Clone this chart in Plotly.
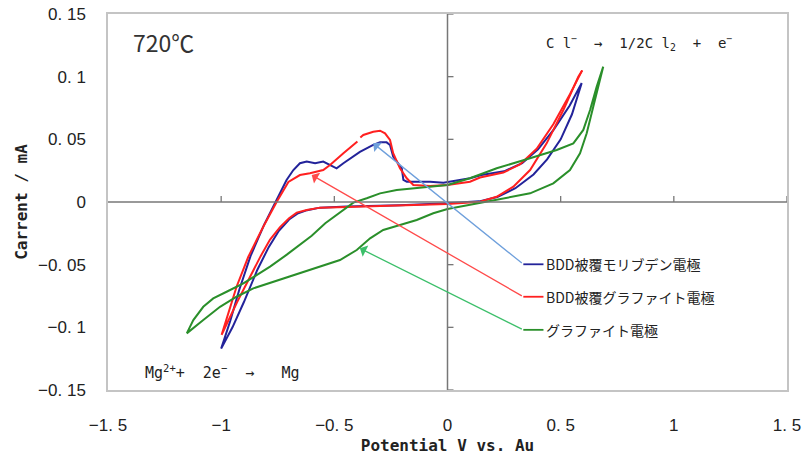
import plotly.graph_objects as go

# ---------------- data ----------------
x_ticks = [-1.5, -1.0, -0.5, 0.0, 0.5, 1.0, 1.5]
x_tick_labels = ["−1. 5", "−1", "−0. 5", "0", "0. 5", "1", "1. 5"]
y_ticks = [-0.15, -0.1, -0.05, 0.0, 0.05, 0.1, 0.15]
y_tick_labels = ["−0. 15", "−0. 1", "−0. 05", "0", "0. 05", "0. 1", "0. 15"]

# BDD被覆モリブデン電極 (blue)
mo_x = [0.593, 0.55, 0.50, 0.44, 0.38, 0.30, 0.22, 0.14, 0.0, -0.21, -0.445, -0.563, -0.62, -0.66,
        -0.70, -0.745, -0.79, -0.84, -0.90, -0.95, -1.0,
        -0.96, -0.92, -0.87, -0.81, -0.755, -0.711, -0.681, -0.652, -0.622, -0.585, -0.549, -0.519,
        -0.49, -0.46, -0.387, -0.328, -0.298, -0.269, -0.254, -0.240, -0.202, -0.195, -0.180, -0.077,
        -0.018, 0.0994, 0.15, 0.25, 0.33, 0.40, 0.47, 0.54, 0.593]
mo_y = [0.095, 0.070, 0.050, 0.034, 0.022, 0.011, 0.004, 0.0005, -0.001, -0.0025, -0.0035, -0.0045,
        -0.0065, -0.009, -0.014, -0.023, -0.036, -0.054, -0.080, -0.100, -0.117,
        -0.095, -0.070, -0.043, -0.018, 0.0016, 0.0176, 0.0255, 0.0309, 0.0322, 0.0309, 0.0322, 0.0295,
        0.0269, 0.0309, 0.040, 0.0455, 0.0476, 0.0476, 0.0455, 0.0362, 0.0269, 0.0176, 0.0162, 0.0162,
        0.0154, 0.0189, 0.0215, 0.0245, 0.031, 0.042, 0.058, 0.077, 0.095]

# BDD被覆グラファイト電極 (red) - None marks the small break in the trace
gr_bdd_x = [0.595, 0.578, 0.512, 0.438, 0.365, 0.291, 0.217, 0.144, 0.0, -0.21, -0.445, -0.563, -0.622,
            -0.666, -0.70, -0.74, -0.784, -0.825, -0.865, -0.93, -0.998,
            -0.965, -0.932, -0.880, -0.814, -0.755, -0.703, -0.652, -0.608, -0.549, -0.519, -0.46, -0.398,
            None, -0.385,
            -0.372, -0.328, -0.298, -0.276, -0.254, -0.240, -0.210, -0.180, -0.151, -0.077, 0.0, 0.0994,
            0.1436, 0.2466, 0.32, 0.394, 0.4675, 0.541, 0.595]
gr_bdd_y = [0.105, 0.100, 0.0734, 0.0468, 0.0255, 0.0122, 0.0042, 0.0002, -0.0016, -0.003, -0.004,
            -0.0045, -0.0064, -0.0085, -0.013, -0.020, -0.030, -0.043, -0.057, -0.080, -0.106,
            -0.086, -0.0676, -0.0437, -0.0197, 0.0, 0.016, 0.0215, 0.0229, 0.0255, 0.0295, 0.0389, 0.0483,
            None, 0.0515,
            0.0535, 0.0561, 0.0569, 0.0548, 0.0495, 0.0389, 0.0269, 0.0189, 0.0136, 0.0128, 0.0136, 0.0162,
            0.0195, 0.0235, 0.030, 0.0425, 0.062, 0.086, 0.105]

# グラファイト電極 (green)
gr_x = [-1.152, -1.123, -1.079, -1.035, -0.976, -0.902, -0.84, -0.784, -0.71, -0.652, -0.60, -0.54,
        -0.475, -0.416, -0.357, -0.298, -0.2245, -0.151, -0.077, 0.0, 0.099, 0.2174, 0.3646, 0.4825,
        0.556, 0.600, 0.630, 0.659, 0.688,
        0.674, 0.644, 0.615, 0.5855, 0.541, 0.4675, 0.365, 0.217, 0.099, 0.0, -0.063, -0.136, -0.210,
        -0.284, -0.342, -0.401, -0.475, -0.563, -0.652, -0.784, -0.858, -0.932, -1.005, -1.079, -1.152]
gr_y = [-0.1048, -0.0942, -0.0836, -0.0769, -0.0716, -0.0649, -0.058, -0.0516, -0.042, -0.0343, -0.027,
        -0.017, -0.008, -0.0005, 0.003, 0.0069, 0.0096, 0.0109, 0.0117, 0.0136, 0.0189, 0.0269, 0.0349,
        0.0415, 0.0468, 0.0575, 0.0734, 0.092, 0.108,
        0.097, 0.076, 0.0548, 0.0389, 0.0255, 0.0149, 0.0069, 0.0016, -0.0024, -0.0056, -0.009, -0.0144,
        -0.0184, -0.0223, -0.029, -0.0383, -0.0463, -0.0516, -0.0569, -0.0649, -0.0689, -0.0756, -0.0836,
        -0.0942, -0.1048]

legend_names = ["BDD被覆モリブデン電極", "BDD被覆グラファイト電極", "グラファイト電極"]
series_x = [mo_x, gr_bdd_x, gr_x]
series_y = [mo_y, gr_bdd_y, gr_y]
line_colors = ["#23239a", "#ff2020", "#2a8f2a"]
leader_colors = ["#6fa0dc", "#ff4a4a", "#3cbf6a"]

# leader arrows: tip on curve, knee near label
arrow_tip_x = [-0.328, -0.600, -0.387]
arrow_tip_y = [0.0468, 0.0215, -0.037]
knee_x = 0.335
label_line_end_x = 0.424
knee_y = [-0.0497, -0.0756, -0.102]

fig = go.Figure()

for xs, ys, c, n in zip(series_x, series_y, line_colors, legend_names):
    fig.add_trace(go.Scatter(x=xs, y=ys, mode="lines", name=n, connectgaps=False,
                             line=dict(color=c, width=2), showlegend=False))

annotations = []
for i, n in enumerate(legend_names):
    fig.add_trace(go.Scatter(x=[knee_x, label_line_end_x], y=[knee_y[i], knee_y[i]], mode="lines",
                             line=dict(color=line_colors[i], width=1.8), showlegend=False,
                             hoverinfo="skip"))
    annotations.append(dict(x=arrow_tip_x[i], y=arrow_tip_y[i], ax=knee_x, ay=knee_y[i],
                            xref="x", yref="y", axref="x", ayref="y", text="",
                            showarrow=True, arrowhead=1, arrowsize=1.6, arrowwidth=1.3,
                            arrowcolor=leader_colors[i], standoff=0, startstandoff=0))
    annotations.append(dict(x=label_line_end_x, y=knee_y[i], xref="x", yref="y", text=n,
                            showarrow=False, xanchor="left", yanchor="middle", xshift=1,
                            font=dict(family="Noto Sans CJK JP", size=14, color="#222222")))

annotations.append(dict(x=-1.257, y=0.1277, xref="x", yref="y", text="720℃", showarrow=False,
                        font=dict(family="Noto Sans CJK JP", size=23, color="#333333")))
annotations.append(dict(x=0.425, y=0.1265, xref="x", yref="y", xanchor="left",
                        text="C l<sup>−</sup>  →  1/2C l<sub>2</sub>  +  e<sup>−</sup>",
                        showarrow=False,
                        font=dict(family="DejaVu Sans Mono", size=14, color="#222222")))
annotations.append(dict(x=-1.345, y=-0.1355, xref="x", yref="y", xanchor="left",
                        text="Mg<sup>2+</sup>+  2e<sup>−</sup>  →   Mg",
                        showarrow=False,
                        font=dict(family="DejaVu Sans Mono", size=15, color="#222222")))

# centre axes and their tick marks
shapes = [
    dict(type="line", xref="x", yref="y", x0=0, x1=0, y0=y_ticks[0], y1=y_ticks[-1],
         line=dict(color="#777777", width=1.5)),
    dict(type="line", xref="x", yref="y", x0=x_ticks[0], x1=x_ticks[-1], y0=0, y1=0,
         line=dict(color="#777777", width=1.5)),
]
for yt in y_ticks:
    if yt != 0:
        shapes.append(dict(type="line", xref="x", yref="y", xsizemode="pixel", xanchor=0,
                           x0=0, x1=6, y0=yt, y1=yt, line=dict(color="#777777", width=1.3)))
for xt in x_ticks:
    if xt != 0 and xt != x_ticks[0]:
        shapes.append(dict(type="line", xref="x", yref="y", ysizemode="pixel", yanchor=0,
                           y0=0, y1=6, x0=xt, x1=xt, line=dict(color="#777777", width=1.3)))

tick_font = dict(family="Liberation Sans", size=17, color="#222222")

fig.update_layout(
    width=803, height=462,
    margin=dict(l=108, r=16, t=14, b=72),
    paper_bgcolor="white", plot_bgcolor="white",
    annotations=annotations, shapes=shapes,
    xaxis=dict(range=[-1.5, 1.5], tickvals=x_ticks, ticktext=x_tick_labels,
               showgrid=False, zeroline=False, showline=True, mirror=True, automargin=False,
               linecolor="#c4c4c4", linewidth=1.5, ticks="", ticklabelstandoff=19,
               ticklabeloverflow="allow", tickfont=tick_font,
               title=dict(text="<b>Potential V vs. Au</b>", standoff=6,
                          font=dict(family="DejaVu Sans Mono", size=16, color="#222222"))),
    yaxis=dict(range=[-0.15, 0.15], tickvals=y_ticks, ticktext=y_tick_labels,
               showgrid=False, zeroline=False, showline=True, mirror=True, automargin=False,
               linecolor="#c4c4c4", linewidth=1.5, ticks="", ticklabelstandoff=17,
               ticklabeloverflow="allow", tickfont=tick_font,
               title=dict(text="<b>Carrent / mA</b>", standoff=6,
                          font=dict(family="DejaVu Sans Mono", size=16, color="#222222"))),
)

fig.write_html("out.html")
